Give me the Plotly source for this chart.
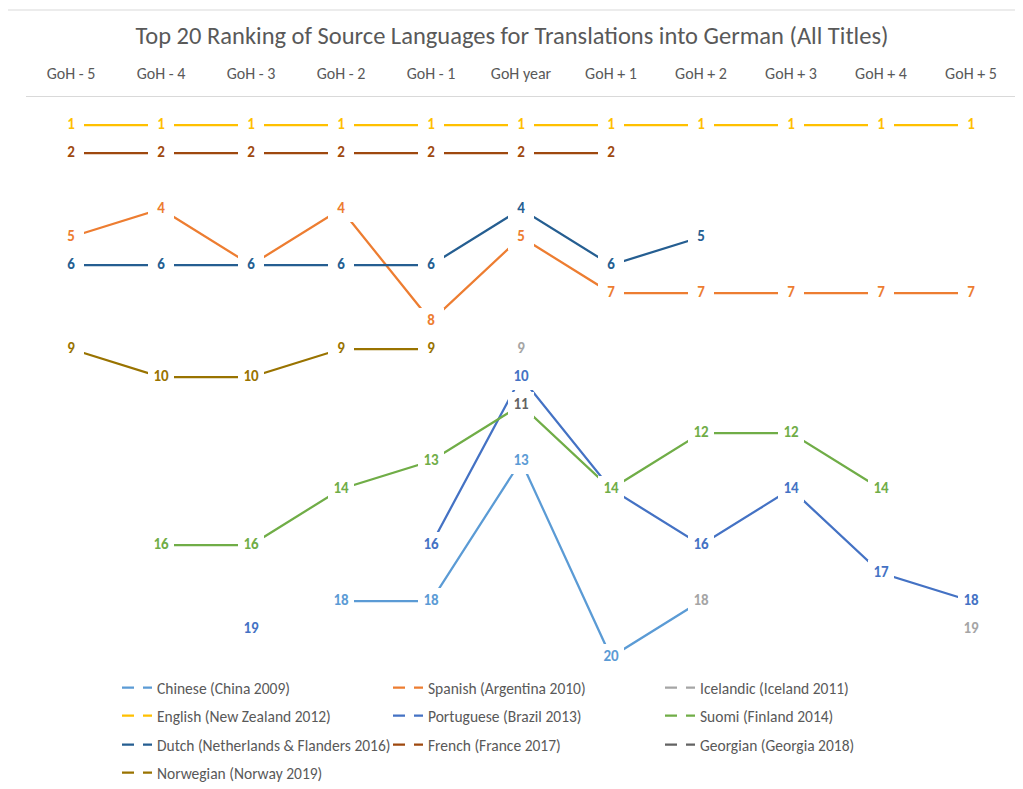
import plotly.graph_objects as go

categories = ["GoH - 5", "GoH - 4", "GoH - 3", "GoH - 2", "GoH - 1", "GoH year",
              "GoH + 1", "GoH + 2", "GoH + 3", "GoH + 4", "GoH + 5"]

chinese    = [None, None, None, 18, 18, 13, 20, 18, None, None, None]
spanish    = [5, 4, 6, 4, 8, 5, 7, 7, 7, 7, 7]
icelandic  = [None, None, None, None, None, 9, None, 18, None, None, 19]
english    = [1, 1, 1, 1, 1, 1, 1, 1, 1, 1, 1]
portuguese = [None, None, 19, None, 16, 10, 14, 16, 14, 17, 18]
suomi      = [None, 16, 16, 14, 13, 11, 14, 12, 12, 14, None]
dutch      = [6, 6, 6, 6, 6, 4, 6, 5, None, None, None]
french     = [2, 2, 2, 2, 2, 2, 2, None, None, None, None]
georgian   = [None, None, None, None, None, 11, None, None, None, None, None]
norwegian  = [9, 10, 10, 9, 9, None, None, None, None, None, None]

series = [
    ("Chinese (China 2009)", chinese, "#5B9BD5"),
    ("Spanish (Argentina 2010)", spanish, "#ED7D31"),
    ("Icelandic (Iceland 2011)", icelandic, "#A5A5A5"),
    ("English (New Zealand 2012)", english, "#FFC000"),
    ("Portuguese (Brazil 2013)", portuguese, "#4472C4"),
    ("Suomi (Finland 2014)", suomi, "#70AD47"),
    ("Dutch (Netherlands & Flanders 2016)", dutch, "#255E91"),
    ("French (France 2017)", french, "#9E480E"),
    ("Georgian (Georgia 2018)", georgian, "#636363"),
    ("Norwegian (Norway 2019)", norwegian, "#997300"),
]

FONT = "Calibri, Carlito, Lato, sans-serif"
fig = go.Figure()

# lines
for name, vals, color in series:
    fig.add_trace(go.Scatter(x=categories, y=vals, mode="lines", name=name,
                             line=dict(color=color, width=2.25),
                             showlegend=False, hoverinfo="skip", connectgaps=False))

# data labels with white boxes (cover lines, like Excel label fills)
for name, vals, color in series:
    txt = [str(v) if v is not None else "" for v in vals]
    fig.add_trace(go.Scatter(x=categories, y=vals, mode="markers+text", name=name,
                             text=txt, textposition="middle center",
                             textfont=dict(family=FONT, size=15, color=color, weight="bold"),
                             marker=dict(symbol="square", size=26, color="white",
                                         line=dict(width=0)),
                             showlegend=False, hoverinfo="skip"))

# page body has an 8px margin: positions below are in figure pixels
L, R, T, B = 18, 15, 89, 112
W, H = 1023, 789

# legend: one legend per entry, laid out in a 3-column grid
col_px = [109, 380, 652]
row_px = [680, 708, 737, 765]
legend_layout = {}
for i, (name, vals, color) in enumerate(series):
    key = "legend" if i == 0 else f"legend{i + 1}"
    fig.add_trace(go.Scatter(x=[None], y=[None], mode="lines", name=name,
                             line=dict(color=color, width=2.25, dash="12px,9px,11px"),
                             legend=key, showlegend=True))
    legend_layout[key] = dict(
        orientation="h", xref="container", yref="container",
        xanchor="left", yanchor="middle",
        x=col_px[i % 3] / W, y=1 - row_px[i // 3] / H,
        font=dict(family=FONT, size=15.5, color="#595959"),
        bgcolor="rgba(0,0,0,0)", borderwidth=0,
        itemclick=False, itemdoubleclick=False)

pw, ph = W - L - R, H - T - B

def px_x(p):
    return (p - L) / pw

def px_y(p):
    return (H - B - p) / ph

fig.update_layout(
    width=W, height=H,
    margin=dict(l=L, r=R, t=T, b=B, autoexpand=False),
    paper_bgcolor="white", plot_bgcolor="white",
    title=dict(text="Top 20 Ranking of Source Languages for Translations into German (All Titles)",
               x=(512 - 8) / W, xanchor="center", xref="container", yref="container",
               y=1 - 27 / H, yanchor="middle",
               font=dict(family=FONT, size=24.5, color="#595959")),
    xaxis=dict(type="category", side="top", range=[-0.5, 10.5], automargin=False,
               showgrid=False, zeroline=False, showline=True, linecolor="#D9D9D9",
               linewidth=1, ticks="", ticklabelstandoff=11,
               tickfont=dict(family=FONT, size=16, color="#595959")),
    yaxis=dict(range=[21, 0], visible=False, showgrid=False, zeroline=False,
               automargin=False),
    shapes=[dict(type="rect", xref="paper", yref="paper",
                 x0=px_x(-1), x1=px_x(1040), y0=px_y(2), y1=px_y(820),
                 line=dict(color="#D9D9D9", width=1), fillcolor="rgba(0,0,0,0)",
                 layer="below")],
    **legend_layout,
)

fig.write_html("out.html")
